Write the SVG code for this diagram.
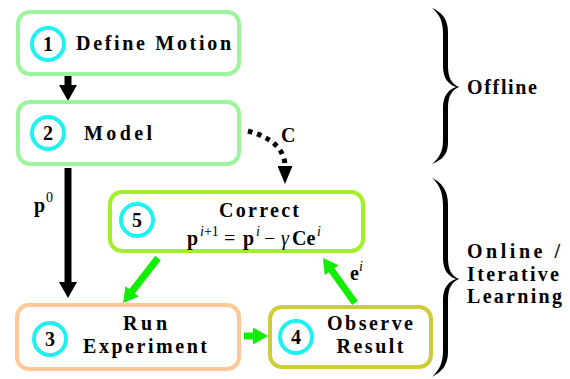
<svg xmlns="http://www.w3.org/2000/svg" width="570" height="379" viewBox="0 0 570 379" font-family="Liberation Serif, Times New Roman, DejaVu Serif, serif">
<defs>
<style>
.box{fill:#fff;stroke-width:4}
.num{fill:#fff;stroke:#1ff0f0;stroke-width:4}
.t{font-weight:700;font-size:20px;fill:#000}
.c{text-anchor:middle}
.it{font-style:italic;font-weight:400}
.sup{font-size:14px}
.rm{font-weight:400}
.blk{stroke:#000;stroke-width:7;fill:none}
.grn{stroke:#11ee00;stroke-width:7;fill:none}
.brace{fill:#000}
</style>
<marker id="hk" markerUnits="userSpaceOnUse" markerWidth="16" markerHeight="18" viewBox="0 0 16 18" refX="1" refY="9" orient="auto"><path d="M0,0 L16,9 L0,18 Z" fill="#000"/></marker>
<marker id="hg" markerUnits="userSpaceOnUse" markerWidth="15" markerHeight="17" viewBox="0 0 15 17" refX="1" refY="8.5" orient="auto"><path d="M0,0 L15,8.5 L0,17 Z" fill="#11ee00"/></marker>
<marker id="hd" markerUnits="userSpaceOnUse" markerWidth="18" markerHeight="15" viewBox="0 0 18 15" refX="1" refY="7.5" orient="auto"><path d="M0,0 L18,7.5 L0,15 Z" fill="#000"/></marker>
</defs>

<g id="connectors">
<line class="blk" x1="68" y1="76" x2="68" y2="86" marker-end="url(#hk)"/>
<line class="blk" x1="68" y1="168" x2="68" y2="283" marker-end="url(#hk)"/>
<path d="M248,131 C270,137 285,148 285,167" fill="none" stroke="#000" stroke-width="5" stroke-dasharray="4.5,5" marker-end="url(#hd)"/>
<line class="grn" x1="158" y1="258" x2="131.6" y2="292" marker-end="url(#hg)"/>
<line class="grn" x1="244" y1="336" x2="254" y2="336" marker-end="url(#hg)"/>
<line class="grn" x1="355" y1="303" x2="331.1" y2="269.5" marker-end="url(#hg)"/>
<text class="t" x="34" y="212">p</text><text class="t rm sup" x="46" y="202">0</text>
<text class="t" x="281" y="142">C</text>
<text class="t" x="350" y="280">e</text><text class="t it sup" x="359" y="271">i</text>
</g>

<g id="n1">
<rect class="box" x="18" y="12" width="221" height="62" rx="12" stroke="#9cf59c"/>
<circle class="num" cx="48" cy="44" r="16"/>
<text class="t c" x="48" y="51">1</text>
<text class="t" x="76" y="50" textLength="155">Define Motion</text>
</g>

<g id="n2">
<rect class="box" x="18" y="102" width="221" height="62" rx="12" stroke="#9cf59c"/>
<circle class="num" cx="48" cy="133" r="16"/>
<text class="t c" x="48" y="140">2</text>
<text class="t" x="84" y="140" textLength="68">Model</text>
</g>

<g id="n3">
<rect class="box" x="17" y="305" width="222" height="64" rx="12" stroke="#fdc897"/>
<circle class="num" cx="50" cy="339" r="16"/>
<text class="t c" x="50" y="346">3</text>
<text class="t c" x="145" y="330" textLength="44">Run</text>
<text class="t c" x="145" y="353" textLength="124">Experiment</text>
</g>

<g id="n4">
<rect class="box" x="270" y="307" width="161" height="60" rx="12" stroke="#cdcd3c"/>
<circle class="num" cx="296" cy="337" r="16"/>
<text class="t c" x="296" y="344">4</text>
<text class="t c" x="370" y="330" textLength="86">Observe</text>
<text class="t c" x="370" y="353" textLength="67">Result</text>
</g>

<g id="n5">
<rect class="box" x="110" y="192" width="253" height="59" rx="12" stroke="#a3f02a"/>
<circle class="num" cx="137" cy="220" r="16"/>
<text class="t c" x="137" y="227">5</text>
<text class="t c" x="259" y="217" textLength="80">Correct</text>
<text class="t" y="245"><tspan x="187">p</tspan><tspan x="200" y="236" class="sup it">i</tspan><tspan y="236" class="sup rm">+1</tspan><tspan x="224" y="245" class="rm">=</tspan><tspan x="243">p</tspan><tspan x="256" y="236" class="sup it">i</tspan><tspan x="264" y="245" class="rm">−</tspan><tspan x="281" class="it">γ</tspan><tspan x="292">Ce</tspan><tspan x="317" y="236" class="sup it">i</tspan></text>
</g>

<g id="brace-offline">
<path class="brace" d="M432,8 C441,12 448,18 448,32 L448,66 C448,78 452,84 459,87 C452,90 448,96 448,108 L448,142 C448,156 441,160 432,164 C439,158 443,152 443,140 L443,108 C443,96 448,90 456,87 C448,84 443,78 443,66 L443,34 C443,20 439,14 432,8 Z"/>
<text class="t" x="467" y="94" textLength="70">Offline</text>
</g>

<g id="brace-online">
<path class="brace" d="M432,178 C441,182 448,190 448,204 L448,258 C448,270 452,276 459,279 C452,282 448,288 448,300 L448,352 C448,366 441,372 432,377 C439,370 443,364 443,350 L443,300 C443,288 448,282 456,279 C448,276 443,270 443,258 L443,206 C443,192 439,184 432,178 Z"/>
<text class="t" x="467" y="258" textLength="93">Online /</text>
<text class="t" x="467" y="281" textLength="92">Iterative</text>
<text class="t" x="467" y="303" textLength="95">Learning</text>
</g>
</svg>
